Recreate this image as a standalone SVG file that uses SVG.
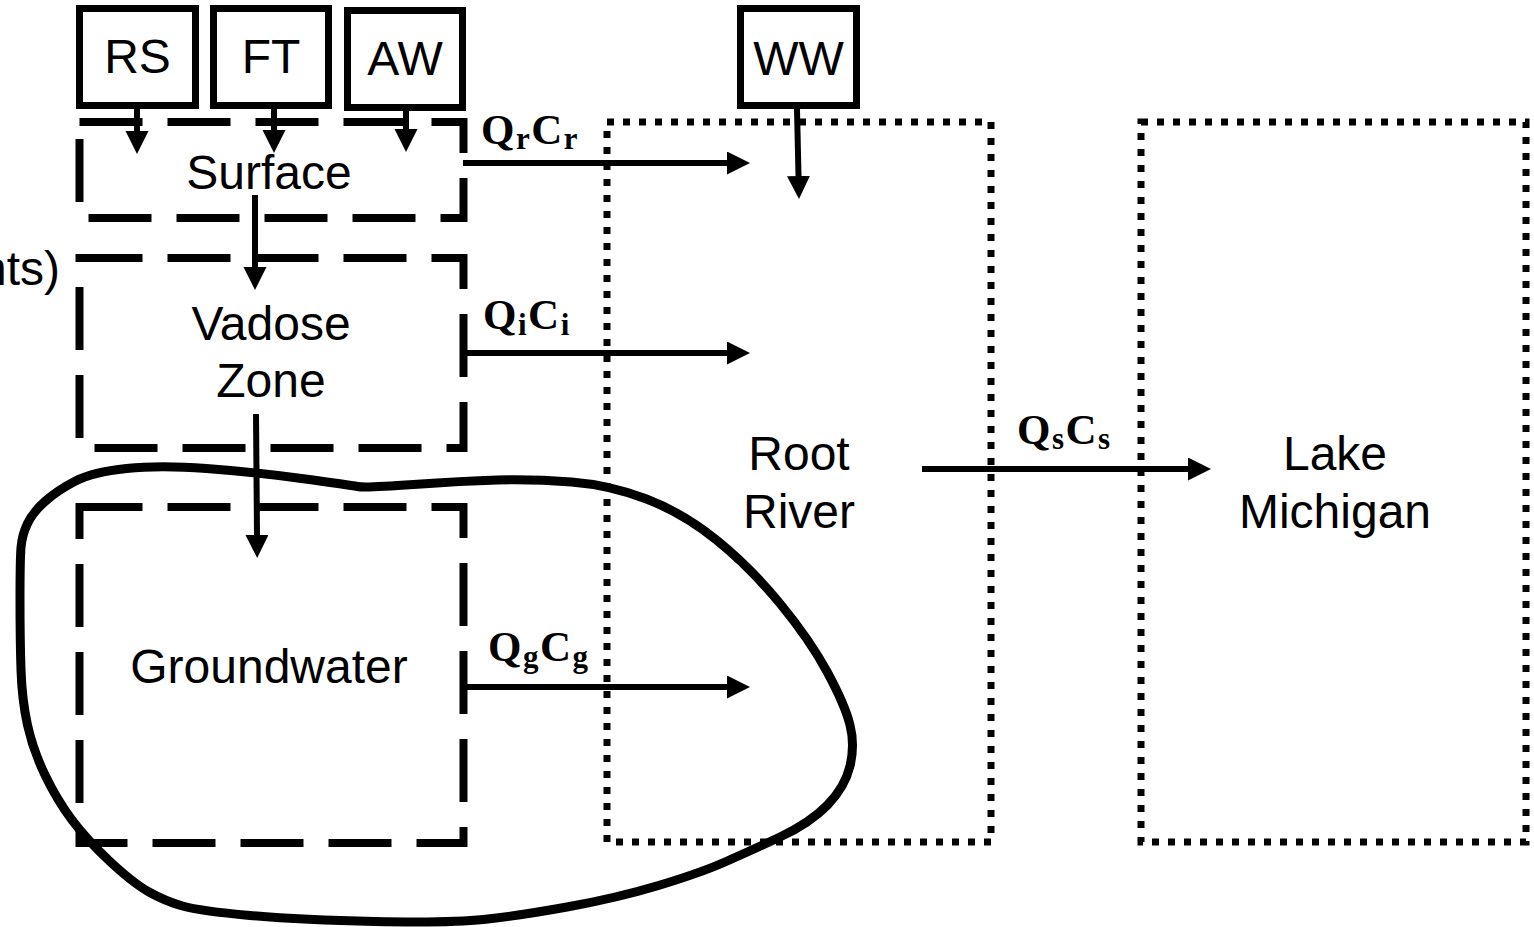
<svg xmlns="http://www.w3.org/2000/svg" width="1534" height="927" viewBox="0 0 1534 927">
<style>
.box{fill:none;stroke:#000;stroke-width:7}
.dash{fill:none;stroke:#000;stroke-width:8;stroke-dasharray:63 25}
.dot{fill:none;stroke:#000;stroke-width:7;stroke-dasharray:7 9}
.lbl{font-family:"Liberation Sans",Arial,sans-serif;font-size:48px;fill:#000;text-anchor:middle}
.math{font-family:"Liberation Serif","Times New Roman",serif;font-weight:bold;font-size:43px;letter-spacing:1.5px;fill:#000}
.sub{font-size:31px}
.arr{stroke:#000;stroke-width:6;fill:none;marker-end:url(#ah)}
.blob{fill:none;stroke:#000;stroke-width:9;stroke-linejoin:round}
</style>
<defs>
<marker id="ah" markerUnits="userSpaceOnUse" markerWidth="24" markerHeight="24" refX="0" refY="11.5" orient="auto">
<path d="M0,0 L23,11.5 L0,23 Z" fill="#000"/>
</marker>
</defs>
<rect width="1534" height="927" fill="#fff"/>

<g id="watershed">
<path class="blob" d="M27.5,523.5 Q33,512 45.5,501 Q58,490 75.5,481 Q93,472 126.5,468.5 Q160,465 206.5,468.5 Q253,472 301.5,478.5 Q350,485 357.5,486.5 Q365,488 413.5,484.5 Q462,481 497.5,480 Q533,479 571.5,482 Q610,485 646.5,499 Q683,513 716.5,540 Q750,567 780,603.5 Q810,640 827.5,672.5 Q845,705 850,725 Q855,745 850,766 Q845,787 827.5,805 Q810,823 780,837 Q750,851 725,862 Q700,873 658.5,885.5 Q617,898 567,907 Q517,916 483.5,919.5 Q450,923 375,921.5 Q300,920 250,915.5 Q200,911 182.5,906 Q165,901 149,892 Q133,883 110,861.5 Q87,840 72,820 Q57,800 45,775 Q33,750 27.5,725 Q22,700 21,670 Q20,640 20,600 Q20,560 21,547.5 Q22,535 27.5,523.5 Z"/>
</g>

<g id="rs"><rect class="box" x="79.5" y="8.5" width="116" height="97"/><text class="lbl" x="137.5" y="73">RS</text></g>
<g id="ft"><rect class="box" x="213.5" y="8.5" width="115" height="97"/><text class="lbl" x="271" y="73">FT</text></g>
<g id="aw"><rect class="box" x="347.5" y="10.5" width="115" height="97"/><text class="lbl" x="405" y="75">AW</text></g>
<g id="ww"><rect class="box" x="740.5" y="8.5" width="116" height="97"/><text class="lbl" x="798.5" y="75">WW</text></g>

<g id="surface"><rect class="dash" x="79.5" y="122" width="384" height="96"/><text class="lbl" x="269" y="189">Surface</text></g>
<g id="vadose"><rect class="dash" x="79.5" y="258" width="384" height="190"/><text class="lbl" x="271" y="340">Vadose</text><text class="lbl" x="271" y="397">Zone</text></g>
<g id="groundwater"><rect class="dash" x="79.5" y="507" width="384" height="336"/><text class="lbl" x="269" y="683">Groundwater</text></g>
<g id="root-river"><rect class="dot" x="607" y="122" width="384" height="720"/><text class="lbl" x="799" y="470">Root</text><text class="lbl" x="799" y="528">River</text></g>
<g id="lake-michigan"><rect class="dot" x="1141" y="122" width="385" height="720"/><text class="lbl" x="1335" y="470">Lake</text><text class="lbl" x="1335" y="528">Michigan</text></g>

<g id="side-note"><text class="lbl" x="60" y="285" style="text-anchor:end">nts)</text></g>

<g id="connectors">
<line class="arr" x1="137" y1="109" x2="137" y2="131"/>
<line class="arr" x1="274" y1="109" x2="274" y2="130"/>
<line class="arr" x1="406" y1="111" x2="406" y2="129"/>
<line class="arr" x1="797" y1="109" x2="798.5" y2="176"/>
<line class="arr" x1="255" y1="195" x2="255" y2="267"/>
<line class="arr" x1="256" y1="414" x2="257" y2="535"/>
<line class="arr" x1="463" y1="163" x2="727" y2="163"/>
<line class="arr" x1="463" y1="353" x2="727" y2="353"/>
<line class="arr" x1="463" y1="687" x2="727" y2="687"/>
<line class="arr" x1="922" y1="469" x2="1188" y2="469"/>
</g>

<g id="flow-labels">
<text class="math" x="481" y="144">Q<tspan class="sub" dy="5">r</tspan><tspan dy="-5">C</tspan><tspan class="sub" dy="5">r</tspan></text>
<text class="math" x="483" y="329">Q<tspan class="sub" dy="6">i</tspan><tspan dy="-6">C</tspan><tspan class="sub" dy="6">i</tspan></text>
<text class="math" x="488" y="661">Q<tspan class="sub" dy="6">g</tspan><tspan dy="-6">C</tspan><tspan class="sub" dy="6">g</tspan></text>
<text class="math" x="1017" y="444">Q<tspan class="sub" dy="5">s</tspan><tspan dy="-5">C</tspan><tspan class="sub" dy="5">s</tspan></text>
</g>
</svg>
